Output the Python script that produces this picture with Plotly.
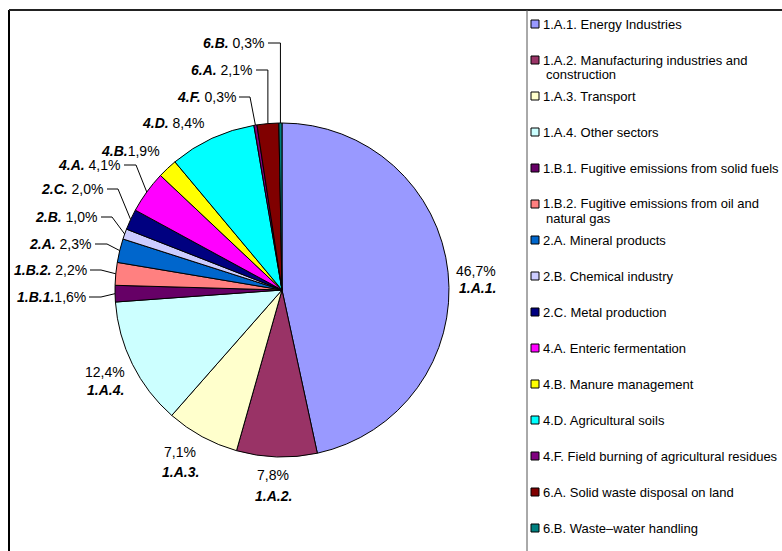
import math
import plotly.graph_objects as go

# Emission shares by source category (%), clockwise from 12 o'clock
names = [
    "1.A.1. Energy Industries",
    "1.A.2. Manufacturing industries and construction",
    "1.A.3. Transport",
    "1.A.4. Other sectors",
    "1.B.1. Fugitive emissions from solid fuels",
    "1.B.2. Fugitive emissions from oil and natural gas",
    "2.A. Mineral products",
    "2.B. Chemical industry",
    "2.C. Metal production",
    "4.A. Enteric fermentation",
    "4.B. Manure management",
    "4.D. Agricultural soils",
    "4.F. Field burning of agricultural residues",
    "6.A. Solid waste disposal on land",
    "6.B. Waste\u2013water handling",
]
shares = [46.7, 7.8, 7.1, 12.4, 1.6, 2.2, 2.3, 1.0, 2.0, 4.1, 1.9, 8.4, 0.3, 2.1, 0.3]
colors = [
    "#9999FF", "#993366", "#FFFFCC", "#CCFFFF", "#660066",
    "#FF8080", "#0066CC", "#CCCCFF", "#000080", "#FF00FF",
    "#FFFF00", "#00FFFF", "#800080", "#800000", "#008080",
]
# legend text, with the wrapped entries split over two lines
legend_lines = [
    ["1.A.1. Energy Industries"],
    ["1.A.2. Manufacturing industries and", "construction"],
    ["1.A.3. Transport"],
    ["1.A.4. Other sectors"],
    ["1.B.1. Fugitive emissions from solid fuels"],
    ["1.B.2. Fugitive emissions from oil and", "natural gas"],
    ["2.A. Mineral products"],
    ["2.B. Chemical industry"],
    ["2.C. Metal production"],
    ["4.A. Enteric fermentation"],
    ["4.B. Manure management"],
    ["4.D. Agricultural soils"],
    ["4.F. Field burning of agricultural residues"],
    ["6.A. Solid waste disposal on land"],
    ["6.B. Waste\u2013water handling"],
]

W, H = 782, 551
CX, CY, R = 282, 290, 167
FONT = "Liberation Sans, Arial, Helvetica, sans-serif"


def px(x):
    return x / W


def py(y):
    return 1 - y / H


def pct(v):
    return f"{v:.1f}".replace(".", ",") + "%"


codes = [n.split(" ")[0] for n in names]

# rim point at the middle of each slice (pixel coords)
total = sum(shares)
rim = []
acc = 0.0
for v in shares:
    theta = 2 * math.pi * (acc + v / 2) / total
    rim.append((CX + R * math.sin(theta), CY - R * math.cos(theta)))
    acc += v

# label placement: stacked (value over code) or single line with leader
stacked = {
    "1.A.1.": dict(x=498, anchor="right", yv=271, yc=288),
    "1.A.2.": dict(x=273, anchor="center", yv=475, yc=496),
    "1.A.3.": dict(x=180, anchor="center", yv=452, yc=472),
    "1.A.4.": dict(x=105, anchor="center", yv=372, yc=390),
}
single = {
    "6.B.": dict(xr=267, y=43, elbow=None),
    "6.A.": dict(xr=255, y=70, elbow=None),
    "4.F.": dict(xr=238, y=97, elbow=250),
    "4.D.": dict(xr=207, y=123, elbow=False),
    "4.B.": dict(xr=162, y=151, elbow=False, tight=True),
    "4.A.": dict(xr=123, y=165, elbow=136),
    "2.C.": dict(xr=106, y=189, elbow=118),
    "2.B.": dict(xr=100, y=217, elbow=112),
    "2.A.": dict(xr=94, y=244, elbow=107),
    "1.B.2.": dict(xr=89, y=270, elbow=101),
    "1.B.1.": dict(xr=88, y=297, elbow=101, tight=True),
}

fig = go.Figure(
    go.Pie(
        values=shares,
        labels=names,
        sort=False,
        direction="clockwise",
        rotation=0,
        textinfo="none",
        marker=dict(colors=colors, line=dict(color="black", width=1)),
        domain=dict(x=[px(CX - R), px(CX + R)], y=[py(CY + R), py(CY - R)]),
        showlegend=False,
        hoverinfo="label+percent",
    )
)

annotations = []
shapes = []
lab_font = dict(family=FONT, size=14, color="black")

for i, code in enumerate(codes):
    if code in stacked:
        s = stacked[code]
        annotations.append(dict(x=px(s["x"]), y=py(s["yv"]), xref="paper", yref="paper",
                                text=pct(shares[i]), showarrow=False, xanchor=s["anchor"],
                                yanchor="middle", font=lab_font))
        annotations.append(dict(x=px(s["x"]), y=py(s["yc"]), xref="paper", yref="paper",
                                text=f"<b><i>{code}</i></b>", showarrow=False,
                                xanchor=s["anchor"], yanchor="middle", font=lab_font))
    else:
        s = single[code]
        gap = "" if s.get("tight") else " "
        annotations.append(dict(x=px(s["xr"]), y=py(s["y"]), xref="paper", yref="paper",
                                text=f"<b><i>{code}</i></b>{gap}{pct(shares[i])}",
                                showarrow=False, xanchor="right", yanchor="middle",
                                font=lab_font))
        if s["elbow"] is False:
            continue
        rx, ry = rim[i]
        ex = rx if s["elbow"] is None else s["elbow"]
        path = (f"M {px(s['xr'] + 1)},{py(s['y'])} L {px(ex)},{py(s['y'])} "
                f"L {px(rx)},{py(ry)}")
        shapes.append(dict(type="path", path=path, xref="paper", yref="paper",
                           line=dict(color="black", width=1)))

# legend drawn as a boxed list on the right
LX, LY0, LSTEP = 527, 24, 36
for i, lines in enumerate(legend_lines):
    yc = LY0 + LSTEP * i
    shapes.append(dict(type="rect", xref="paper", yref="paper",
                       x0=px(LX + 4), x1=px(LX + 12), y0=py(yc + 4), y1=py(yc - 4),
                       fillcolor=colors[i], line=dict(color="black", width=1)))
    for k, t in enumerate(lines):
        annotations.append(dict(x=px(LX + 14 + (3 if k else 0)), y=py(yc + 15 * k),
                                xref="paper", yref="paper", text=t, showarrow=False,
                                xanchor="left", yanchor="middle",
                                font=dict(family=FONT, size=13, color="black")))

# outer frame and legend box border
shapes += [
    dict(type="line", xref="paper", yref="paper", x0=px(9), x1=px(9), y0=py(10), y1=py(H + 5),
         line=dict(color="black", width=2)),
    dict(type="line", xref="paper", yref="paper", x0=px(9), x1=px(W + 5), y0=py(10), y1=py(10),
         line=dict(color="#222222", width=2)),
    dict(type="line", xref="paper", yref="paper", x0=px(LX), x1=px(LX), y0=py(10), y1=py(H + 5),
         line=dict(color="#555555", width=1)),
]

fig.update_layout(
    width=W,
    height=H,
    margin=dict(l=0, r=0, t=0, b=0),
    paper_bgcolor="white",
    plot_bgcolor="white",
    font=dict(family=FONT),
    annotations=annotations,
    shapes=shapes,
    showlegend=False,
)

fig.write_html("out.html")
